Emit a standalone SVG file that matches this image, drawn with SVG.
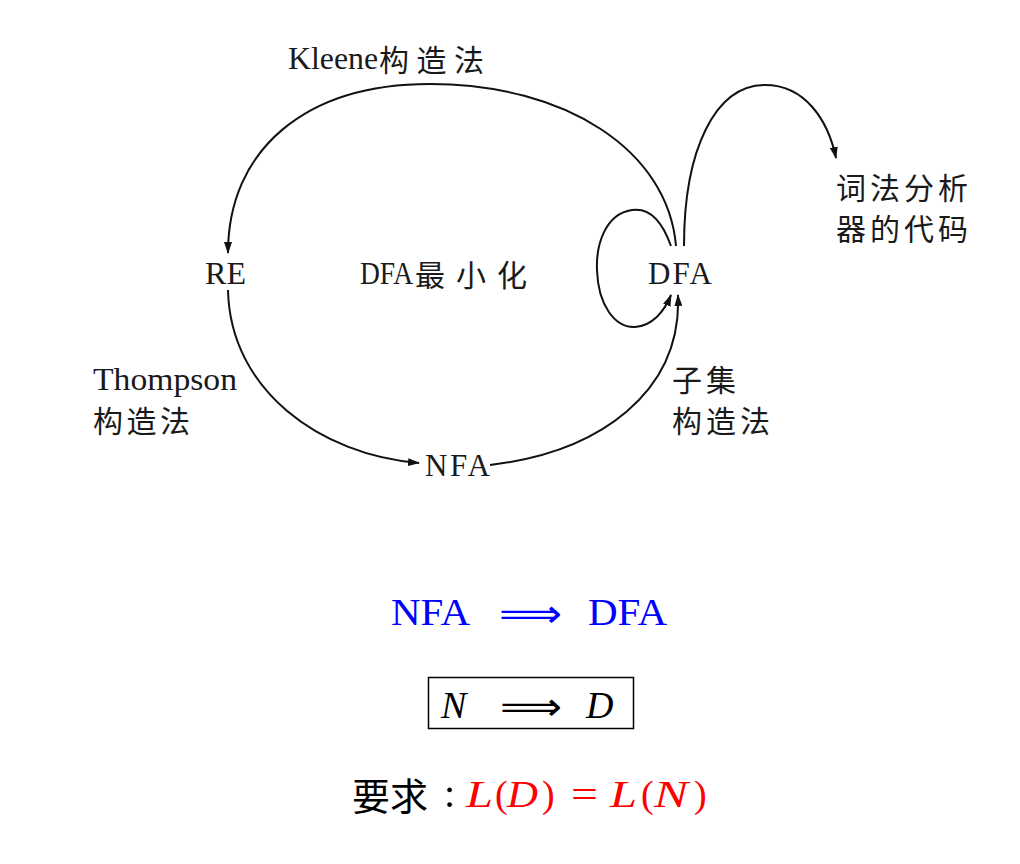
<svg xmlns="http://www.w3.org/2000/svg" width="1020" height="864" viewBox="0 0 1020 864">
<defs>
<marker id="ah" viewBox="0 0 12 8" refX="11" refY="4" markerWidth="12" markerHeight="8" markerUnits="userSpaceOnUse" orient="auto">
<path d="M0,0 L12,4 L0,8 Z" fill="#111"/>
</marker>
</defs>
<style>
.lbl{font-family:"Liberation Serif","Noto Sans CJK SC",serif;font-size:31px;fill:#1a1a1a}
.cjk{font-family:"Noto Sans CJK SC","Liberation Serif",sans-serif;font-size:30px;fill:#1a1a1a}
.edge{fill:none;stroke:#111;stroke-width:2;marker-end:url(#ah)}
.m{font-family:"Liberation Serif",serif;font-size:38px}
.ar{font-family:"DejaVu Sans",sans-serif;font-size:39px}
</style>
<rect width="1020" height="864" fill="#fff"/>
<g id="connectors">
<path class="edge" d="M 676 246 C 668 150, 565 84, 430 84 C 305 84, 228 150, 228 253"/>
<path class="edge" d="M 671 246 C 660 215, 645 208, 632 210 C 605 214, 596 245, 597 270 C 598 305, 615 328, 635 327 C 652 326, 664 312, 671 295"/>
<path class="edge" d="M 684 246 C 684 150, 715 85, 765 85 C 805 85, 828 120, 836 158"/>
<path class="edge" d="M 228 290 C 230 390, 320 455, 419 463"/>
<path class="edge" d="M 490 465 C 600 452, 682 392, 678 295"/>
</g>
<g id="RE"><text class="lbl" x="205" y="284" textLength="41" lengthAdjust="spacingAndGlyphs">RE</text></g>
<g id="DFA"><text class="lbl" x="648" y="284" textLength="64" lengthAdjust="spacing">DFA</text></g>
<g id="NFA"><text class="lbl" x="425" y="476" textLength="65" lengthAdjust="spacing">NFA</text></g>
<g id="lexer"><text class="cjk" x="836" y="199" textLength="132" lengthAdjust="spacing">词法分析</text><text class="cjk" x="836" y="240" textLength="132" lengthAdjust="spacing">器的代码</text></g>
<g id="labels">
<text class="lbl" x="288" y="69" textLength="90" lengthAdjust="spacingAndGlyphs" font-size="32">Kleene</text>
<text class="cjk" x="379" y="71" textLength="105" lengthAdjust="spacing" font-size="34">构造法</text>
<text class="lbl" x="360" y="284" font-size="29" textLength="53" lengthAdjust="spacingAndGlyphs">DFA</text>
<text class="cjk" x="415" y="286" textLength="112" lengthAdjust="spacing" font-size="35">最小化</text>
<text class="lbl" x="93" y="390" textLength="144" lengthAdjust="spacingAndGlyphs" font-size="32">Thompson</text>
<text class="cjk" x="93" y="432" textLength="97" lengthAdjust="spacing" font-size="32">构造法</text>
<text class="cjk" x="672" y="391" textLength="64" lengthAdjust="spacing">子集</text>
<text class="cjk" x="672" y="432" textLength="98" lengthAdjust="spacing">构造法</text>
</g>
<g id="formula1" fill="#0000ff">
<text class="m" x="391" y="625" textLength="79" lengthAdjust="spacingAndGlyphs">NFA</text>
<text class="ar" x="499" y="627" textLength="63" lengthAdjust="spacingAndGlyphs">⟹</text>
<text class="m" x="588" y="625" textLength="79" lengthAdjust="spacingAndGlyphs">DFA</text>
</g>
<g id="formula2">
<rect x="428.5" y="677.5" width="205" height="51" fill="none" stroke="#000" stroke-width="1.5"/>
<text class="m" x="441" y="718" font-size="40" font-style="italic">N</text>
<text class="ar" x="500" y="720" textLength="62" lengthAdjust="spacingAndGlyphs">⟹</text>
<text class="m" x="586" y="718" font-size="40" font-style="italic">D</text>
</g>
<g id="formula3">
<text x="352" y="810" font-family="Noto Sans CJK SC,serif" font-size="38" fill="#000">要求</text>
<text x="444" y="807" font-family="Liberation Serif,serif" font-size="40" fill="#000">:</text>
<text class="m" y="807" font-size="39" fill="#ff0000"><tspan x="466" font-style="italic" textLength="27" lengthAdjust="spacingAndGlyphs">L</tspan><tspan x="495">(</tspan><tspan x="507" font-style="italic" textLength="31" lengthAdjust="spacingAndGlyphs">D</tspan><tspan x="542">)</tspan><tspan x="571" textLength="27" lengthAdjust="spacingAndGlyphs">=</tspan><tspan x="610" font-style="italic" textLength="27" lengthAdjust="spacingAndGlyphs">L</tspan><tspan x="641">(</tspan><tspan x="654" font-style="italic" textLength="34" lengthAdjust="spacingAndGlyphs">N</tspan><tspan x="694">)</tspan></text>
</g>
</svg>
